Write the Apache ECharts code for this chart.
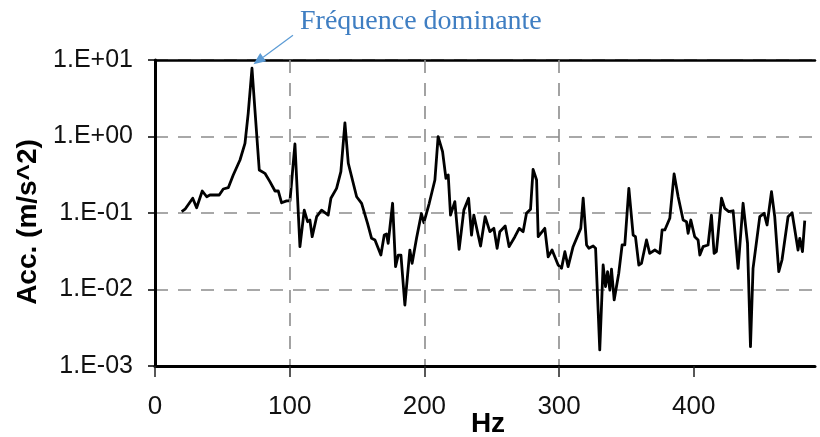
<!DOCTYPE html>
<html>
<head>
<meta charset="utf-8">
<script src="https://cdn.jsdelivr.net/npm/echarts@6/dist/echarts.min.js"></script>
<style>
html,body{margin:0;padding:0;background:#fff;}
#chart{width:820px;height:437px;}
</style>
</head>
<body>
<div id="chart"></div>
<script>
const hz = [19.8,22.3,28.0,30.9,35.1,38.4,40.8,47.7,50.7,54.4,
58.1,63.1,66.8,69.2,72.0,74.2,77.4,81.6,85.3,89.1,
91.5,94.0,97.7,100.2,103.9,107.6,110.8,113.3,115.0,116.7,
120.0,123.7,128.6,130.6,134.8,138.0,141.0,143.5,149.7,153.4,
157.8,160.8,163.3,167.7,170.2,171.9,173.1,176.4,178.6,180.6,
182.6,185.5,189.2,190.9,194.2,197.8,199.6,203.6,207.8,210.2,
213.5,216.0,217.7,219.4,222.6,225.8,229.3,232.8,235.0,236.7,
241.7,245.1,248.6,251.6,254.0,256.0,260.0,262.9,267.2,270.4,
273.3,275.8,278.8,280.7,283.3,284.5,289.4,291.9,294.8,299.3,
301.8,304.3,306.7,310.4,316.1,317.9,320.4,322.1,325.3,327.1,
330.2,332.7,334.5,336.0,337.7,338.9,340.9,344.3,346.8,348.8,
351.8,355.0,356.7,359.2,361.2,364.9,367.3,371.1,374.8,376.5,
378.5,382.2,383.5,385.4,388.4,392.1,394.6,395.8,397.8,400.7,
403.2,404.5,406.9,410.6,413.1,415.1,416.8,420.6,423.0,426.0,
429.2,432.9,436.6,439.9,442.1,444.0,449.0,452.2,454.4,457.7,
460.1,463.1,465.5,470.0,473.0,477.4,478.7,480.7,482.4];

const acc = [0.104,0.112,0.156,0.117,0.194,0.163,0.172,0.172,0.206,0.214,
0.314,0.493,0.815,2.01,7.80,2.22,0.365,0.330,0.257,0.194,
0.194,0.136,0.144,0.144,0.798,0.0363,0.109,0.0769,0.081,0.049,
0.0895,0.109,0.094,0.156,0.210,0.347,1.51,0.447,0.163,0.134,
0.0733,0.0467,0.0444,0.0282,0.0515,0.0531,0.0402,0.134,0.0199,0.0282,
0.0282,0.00627,0.0328,0.0220,0.0471,0.0985,0.0746,0.134,0.270,0.994,
0.633,0.284,0.314,0.094,0.141,0.0335,0.109,0.156,0.0515,0.094,
0.037,0.0895,0.057,0.063,0.0346,0.057,0.0676,0.0363,0.049,0.063,
0.057,0.099,0.112,0.372,0.270,0.049,0.063,0.0268,0.0328,0.0209,
0.0189,0.0312,0.0199,0.0363,0.063,0.156,0.0382,0.0346,0.037,0.0346,
0.00162,0.0209,0.0109,0.0171,0.00984,0.0184,0.0073,0.0163,0.0382,0.0382,
0.210,0.0515,0.049,0.0209,0.022,0.0444,0.0297,0.0328,0.0297,0.060,
0.060,0.0853,0.0895,0.324,0.163,0.081,0.0769,0.0543,0.081,0.049,
0.0444,0.0282,0.0363,0.0382,0.094,0.0297,0.0312,0.156,0.115,0.104,
0.107,0.0189,0.134,0.0402,0.00179,0.0189,0.0895,0.099,0.0697,0.190,
0.0895,0.0171,0.0243,0.0895,0.101,0.0328,0.0467,0.0312,0.0793];

const xTicks = [0, 100, 200, 300, 400];
const yTickLabels = ['1.E-03','1.E-02','1.E-01','1.E+00','1.E+01'];
const xName = 'Hz';
const yName = 'Acc. (m/s^2)';
const annotationText = 'Fréquence dominante';

const X_MIN = 0, X_MAX = 490;
const Y_MIN = 0.001, Y_MAX = 10;

const chart = echarts.init(document.getElementById('chart'), null, {renderer: 'canvas'});

const dash = {color: '#8c8c8c', width: 1.6, type: [13, 10]};

const option = {
  animation: false,
  backgroundColor: '#fff',
  grid: {left: 155, top: 60, right: 820 - 155 - Math.round(X_MAX * 1.3475), bottom: 437 - 366, containLabel: false},
  xAxis: [{
    type: 'value', min: X_MIN, max: X_MAX, interval: 100,
    axisLine: {show: true, onZero: false, lineStyle: {color: '#000', width: 3}},
    axisTick: {show: true, length: 11, lineStyle: {color: '#222', width: 1.5},
      customValues: xTicks},
    axisLabel: {
      fontFamily: 'Liberation Sans, Arial, sans-serif', fontSize: 26, color: '#111', margin: 28,
      customValues: xTicks,
      formatter: v => (xTicks.indexOf(v) >= 0 ? String(v) : '')
    },
    splitLine: {show: true, lineStyle: dash, showMinLine: false, showMaxLine: false},
    z: 5
  }, {
    type: 'value', min: X_MIN, max: X_MAX, position: 'top',
    axisLine: {show: true, onZero: false, lineStyle: {color: '#000', width: 2.5}},
    axisTick: {show: false}, axisLabel: {show: false}, splitLine: {show: false}
  }],
  yAxis: [{
    type: 'log', logBase: 10, min: Y_MIN, max: Y_MAX,
    axisLine: {show: true, onZero: false, lineStyle: {color: '#000', width: 3}},
    axisTick: {show: true, length: 7, lineStyle: {color: '#000', width: 1.5}},
    minorTick: {show: false},
    axisLabel: {
      fontFamily: 'Liberation Sans, Arial, sans-serif', fontSize: 25, color: '#111', margin: 22,
      formatter: v => {
        const e = Math.round(Math.log10(v));
        return yTickLabels[e + 3] || '';
      }
    },
    splitLine: {show: true, lineStyle: dash}
  }],
  series: [{
    type: 'line',
    xAxisIndex: 0, yAxisIndex: 0,
    data: hz.map((h, i) => [h, acc[i]]),
    showSymbol: false,
    symbol: 'none',
    lineStyle: {color: '#000', width: 2.8, join: 'round'},
    z: 3
  }]
};

chart.setOption(option);

// arrow pointing to the dominant peak, anchored to the data through the axes
let iMax = 0;
for (let i = 1; i < acc.length; i++) if (acc[i] > acc[iMax]) iMax = i;
const p = chart.convertToPixel({xAxisIndex: 0, yAxisIndex: 0}, [hz[iMax], acc[iMax]]);
const tip = [p[0] + 1.5, p[1] - 4];
const tail = [p[0] + 41, p[1] - 33];
const dx = tip[0] - tail[0], dy = tip[1] - tail[1];
const len = Math.sqrt(dx * dx + dy * dy);
const ux = dx / len, uy = dy / len;
const nx = -uy, ny = ux;
const bx = tip[0] - 12 * ux, by = tip[1] - 12 * uy;

chart.setOption({
  graphic: [
    {id: 'xname', type: 'text', x: 488, y: 424,
      style: {text: xName, fontFamily: 'Liberation Sans, Arial, sans-serif', fontWeight: 'bold', fontSize: 28,
        fill: '#000', align: 'center', verticalAlign: 'middle'}},
    {id: 'yname', type: 'text', x: 28, y: 222, rotation: Math.PI / 2,
      style: {text: yName, fontFamily: 'Liberation Sans, Arial, sans-serif', fontWeight: 'bold', fontSize: 28,
        fill: '#000', align: 'center', verticalAlign: 'middle'}},
    {id: 'annot', type: 'text', x: 300, y: 22,
      style: {text: annotationText, fontFamily: 'Liberation Serif, Times New Roman, serif', fontSize: 28,
        fill: '#3f7ec2', align: 'left', verticalAlign: 'middle'}},
    {id: 'arrowLine', type: 'line', shape: {x1: tail[0], y1: tail[1], x2: bx, y2: by},
      style: {stroke: '#5b9bd5', lineWidth: 1.2}, z: 10},
    {id: 'arrowHead', type: 'polygon', shape: {points: [tip, [bx + 5 * nx, by + 5 * ny], [bx - 5 * nx, by - 5 * ny]]},
      style: {fill: '#5b9bd5'}, z: 10}
  ]
});
</script>
</body>
</html>
